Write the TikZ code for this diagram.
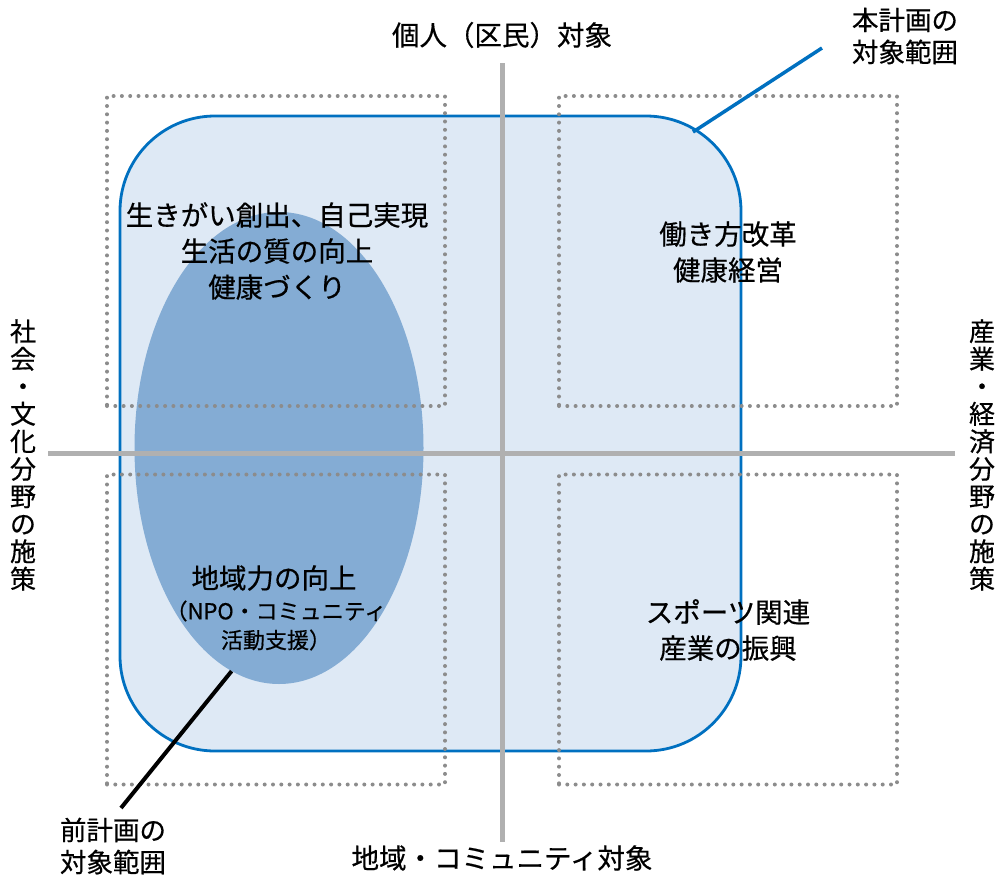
\documentclass[tikz,border=0pt]{standalone}
\usepackage{fontspec}
\setmainfont{Noto Sans CJK JP}[FakeBold=0.5]
\usetikzlibrary{shapes.geometric}
\definecolor{planblue}{HTML}{0070C0}
\definecolor{planfill}{HTML}{DEE9F5}
\definecolor{prevfill}{HTML}{84ACD4}
\definecolor{axisgray}{HTML}{B0B0B0}
\definecolor{dotgray}{HTML}{8C8C8C}

\begin{document}
\begin{tikzpicture}[
x=1pt, y=-1pt,
lbl/.style={align=center, inner sep=0pt, font=\fontsize{27.5}{36}\selectfont},
sublbl/.style={align=center, inner sep=0pt, font=\fontsize{22}{29}\selectfont},
vlbl/.style={align=center, inner sep=0pt, font=\fontsize{26}{27.5}\selectfont},
note/.style={align=center, inner sep=0pt, font=\fontsize{26.5}{32}\selectfont},
dotbox/.style={
	draw=dotgray, line width=4pt, line cap=round,
	dash pattern=on 0pt off 8.3pt,
	minimum width=338pt, minimum height=310pt, inner sep=0pt
},
axis/.style={draw=axisgray, line width=5pt}
]
\useasboundingbox (0,0) rectangle (1002,876);
\node[draw=planblue, fill=planfill, line width=2.8pt, rounded corners=95pt,
	minimum width=621pt, minimum height=635pt, inner sep=0pt] (plan) at (430.5,433.5) {};
\node[ellipse, fill=prevfill, minimum width=289pt, minimum height=472pt, inner sep=0pt] (prev) at (279,448) {};
\foreach \x/\y [count=\i] in {276/251,728/251,276/629.5,728/629.5}
	\node[dotbox] (box\i) at (\x,\y) {};
\draw[axis] (502,63) -- (502,842);
\draw[axis] (48,453) -- (955,453);
\node[lbl] (top) at (502,35) {個人（区民）対象};
\node[lbl] (bottom) at (502,858) {地域・コミュニティ対象};
\node[vlbl] (left) at (23,455) {社\\会\\・\\文\\化\\分\\野\\の\\施\\策};
\node[vlbl] (right) at (982,455) {産\\業\\・\\経\\済\\分\\野\\の\\施\\策};
\node[lbl] (q1) at (277,251) {生きがい創出、自己実現\\生活の質の向上\\健康づくり};
\node[lbl] (q2) at (728,252) {働き方改革\\健康経営};
\node[lbl] (q3) at (274,578) {地域力の向上};
\node[sublbl] (q3s) at (276,625.5) {（NPO・コミュニティ\\活動支援）};
\node[lbl] (q4) at (728,630) {スポーツ関連\\産業の振興};
\node[note] (curnote) at (905,36) {本計画の\\対象範囲};
\node[note] (prevnote) at (113,846) {前計画の\\対象範囲};
\coordinate (curpt) at (693,132);
\coordinate (curend) at (822,48);
\coordinate (prevend) at (121,808);
\draw[planblue, line width=3.5pt] (curpt) -- (curend);
\draw[line width=4pt] (prev.258) -- (prevend);
\end{tikzpicture}
\end{document}
